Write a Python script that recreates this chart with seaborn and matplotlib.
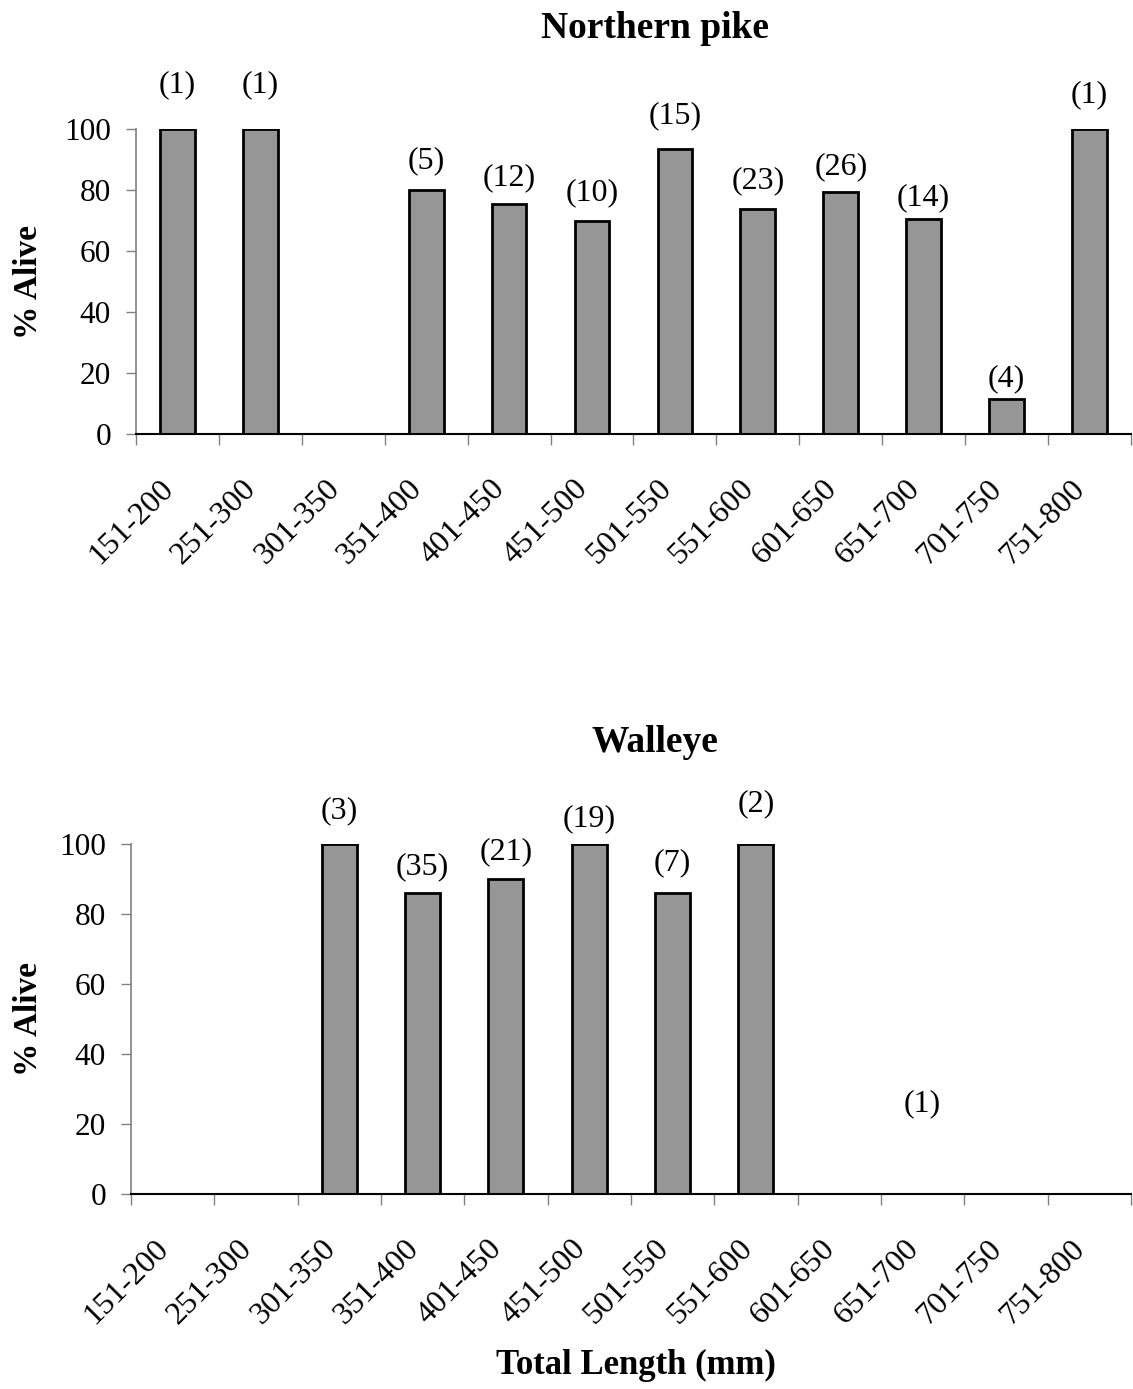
import numpy as np
import pandas as pd
import matplotlib
matplotlib.use('Agg')
import matplotlib.pyplot as plt
from matplotlib.transforms import ScaledTranslation
import seaborn as sns

sns.set_theme(style="white")
plt.rcParams['font.family'] = ['Liberation Serif', 'DejaVu Serif']
plt.rcParams['text.color'] = 'black'
plt.rcParams['axes.labelcolor'] = 'black'

# length classes (mm)
length_classes = ['151-200', '251-300', '301-350', '351-400', '401-450', '451-500',
                  '501-550', '551-600', '601-650', '651-700', '701-750', '751-800']

# Northern pike: % alive and sample size per class (None = no fish)
pike_alive = [100, 100, None, 80, 75.3, 70, 93.4, 73.9, 79.3, 70.5, 11.5, 100]
pike_n = [1, 1, None, 5, 12, 10, 15, 23, 26, 14, 4, 1]

# Walleye
walleye_alive = [None, None, 100, 86, 90.1, 100, 86, 100, None, 0, None, None]
walleye_n = [None, None, 3, 35, 21, 19, 7, 2, None, 1, None, None]

# label lift above bar top, points (hand placed in the original)
pike_lift = [31.7, 31.7, 0, 20.9, 19.4, 20.2, 23.8, 20.2, 18.7, 15.1, 15.1, 24.5]
walleye_lift = [0, 0, 23.8, 18.7, 19.4, 18, 21.6, 28.8, 0, 65.5, 0, 0]

bar_color = '#969696'
fs = 23

fig = plt.figure(figsize=(11.33, 13.89), dpi=100)
ax1 = fig.add_axes([0.1200, 0.6873, 0.8782, 0.2198])
ax2 = fig.add_axes([0.1156, 0.1402, 0.8826, 0.2522])


def draw_panel(ax, alive, counts, lift):
    df = pd.DataFrame({'cls': length_classes, 'alive': alive, 'n': counts})
    sub = df.dropna(subset=['alive'])
    sns.barplot(data=sub, x='cls', y='alive', order=length_classes, color=bar_color,
                edgecolor='black', linewidth=2, width=0.42, saturation=1, ax=ax)
    for i, row in df.iterrows():
        if pd.isna(row['n']):
            continue
        ax.annotate(f"({int(row['n'])})", xy=(i, row['alive']), xytext=(0, lift[i]),
                    textcoords='offset points', ha='center', va='center', fontsize=fs)
    ax.set_xlim(-0.5, len(length_classes) - 0.5)
    ax.set_ylim(0, 100)
    ax.set_yticks(range(0, 101, 20))
    ax.set_yticklabels([str(v) for v in range(0, 101, 20)], fontsize=22.5)
    ax.tick_params(axis='y', which='major', direction='out', length=7, width=1,
                   color='#808080', labelcolor='black', pad=11, left=True)
    ax.set_xticks(range(len(length_classes)))
    ax.set_xticklabels(length_classes, rotation=45, ha='right', va='top',
                       rotation_mode='anchor', fontsize=fs)
    ax.tick_params(axis='x', which='major', length=0, pad=28.8, labelcolor='black')
    ax.set_xticks(np.arange(-0.5, len(length_classes), 1), minor=True)
    ax.tick_params(axis='x', which='minor', direction='out', length=8, width=1,
                   color='#808080', bottom=True)
    shift = ScaledTranslation(-18.5 / 100, 0, fig.dpi_scale_trans)
    for lbl in ax.get_xticklabels():
        lbl.set_transform(lbl.get_transform() + shift)
    for s in ['top', 'right']:
        ax.spines[s].set_visible(False)
    ax.spines['left'].set_color('#808080')
    ax.spines['left'].set_linewidth(1.2)
    ax.spines['bottom'].set_color('black')
    ax.spines['bottom'].set_linewidth(1.5)
    ax.set_xlabel('')
    ax.set_ylabel('% Alive', fontsize=24, fontweight='bold')
    ax.grid(False)


draw_panel(ax1, pike_alive, pike_n, pike_lift)
draw_panel(ax2, walleye_alive, walleye_n, walleye_lift)
ax1.yaxis.set_label_coords(-0.0925, 0.5)
ax2.yaxis.set_label_coords(-0.087, 0.5)

fig.text(0.578, 1 - 28 / 1389, 'Northern pike', ha='center', va='center', fontsize=27, fontweight='bold')
fig.text(0.578, 1 - 743 / 1389, 'Walleye', ha='center', va='center', fontsize=27, fontweight='bold')
fig.text(0.561, 1 - 1365 / 1389, 'Total Length (mm)', ha='center', va='center', fontsize=25, fontweight='bold')

fig.savefig('out.png', dpi=100, facecolor='white')
